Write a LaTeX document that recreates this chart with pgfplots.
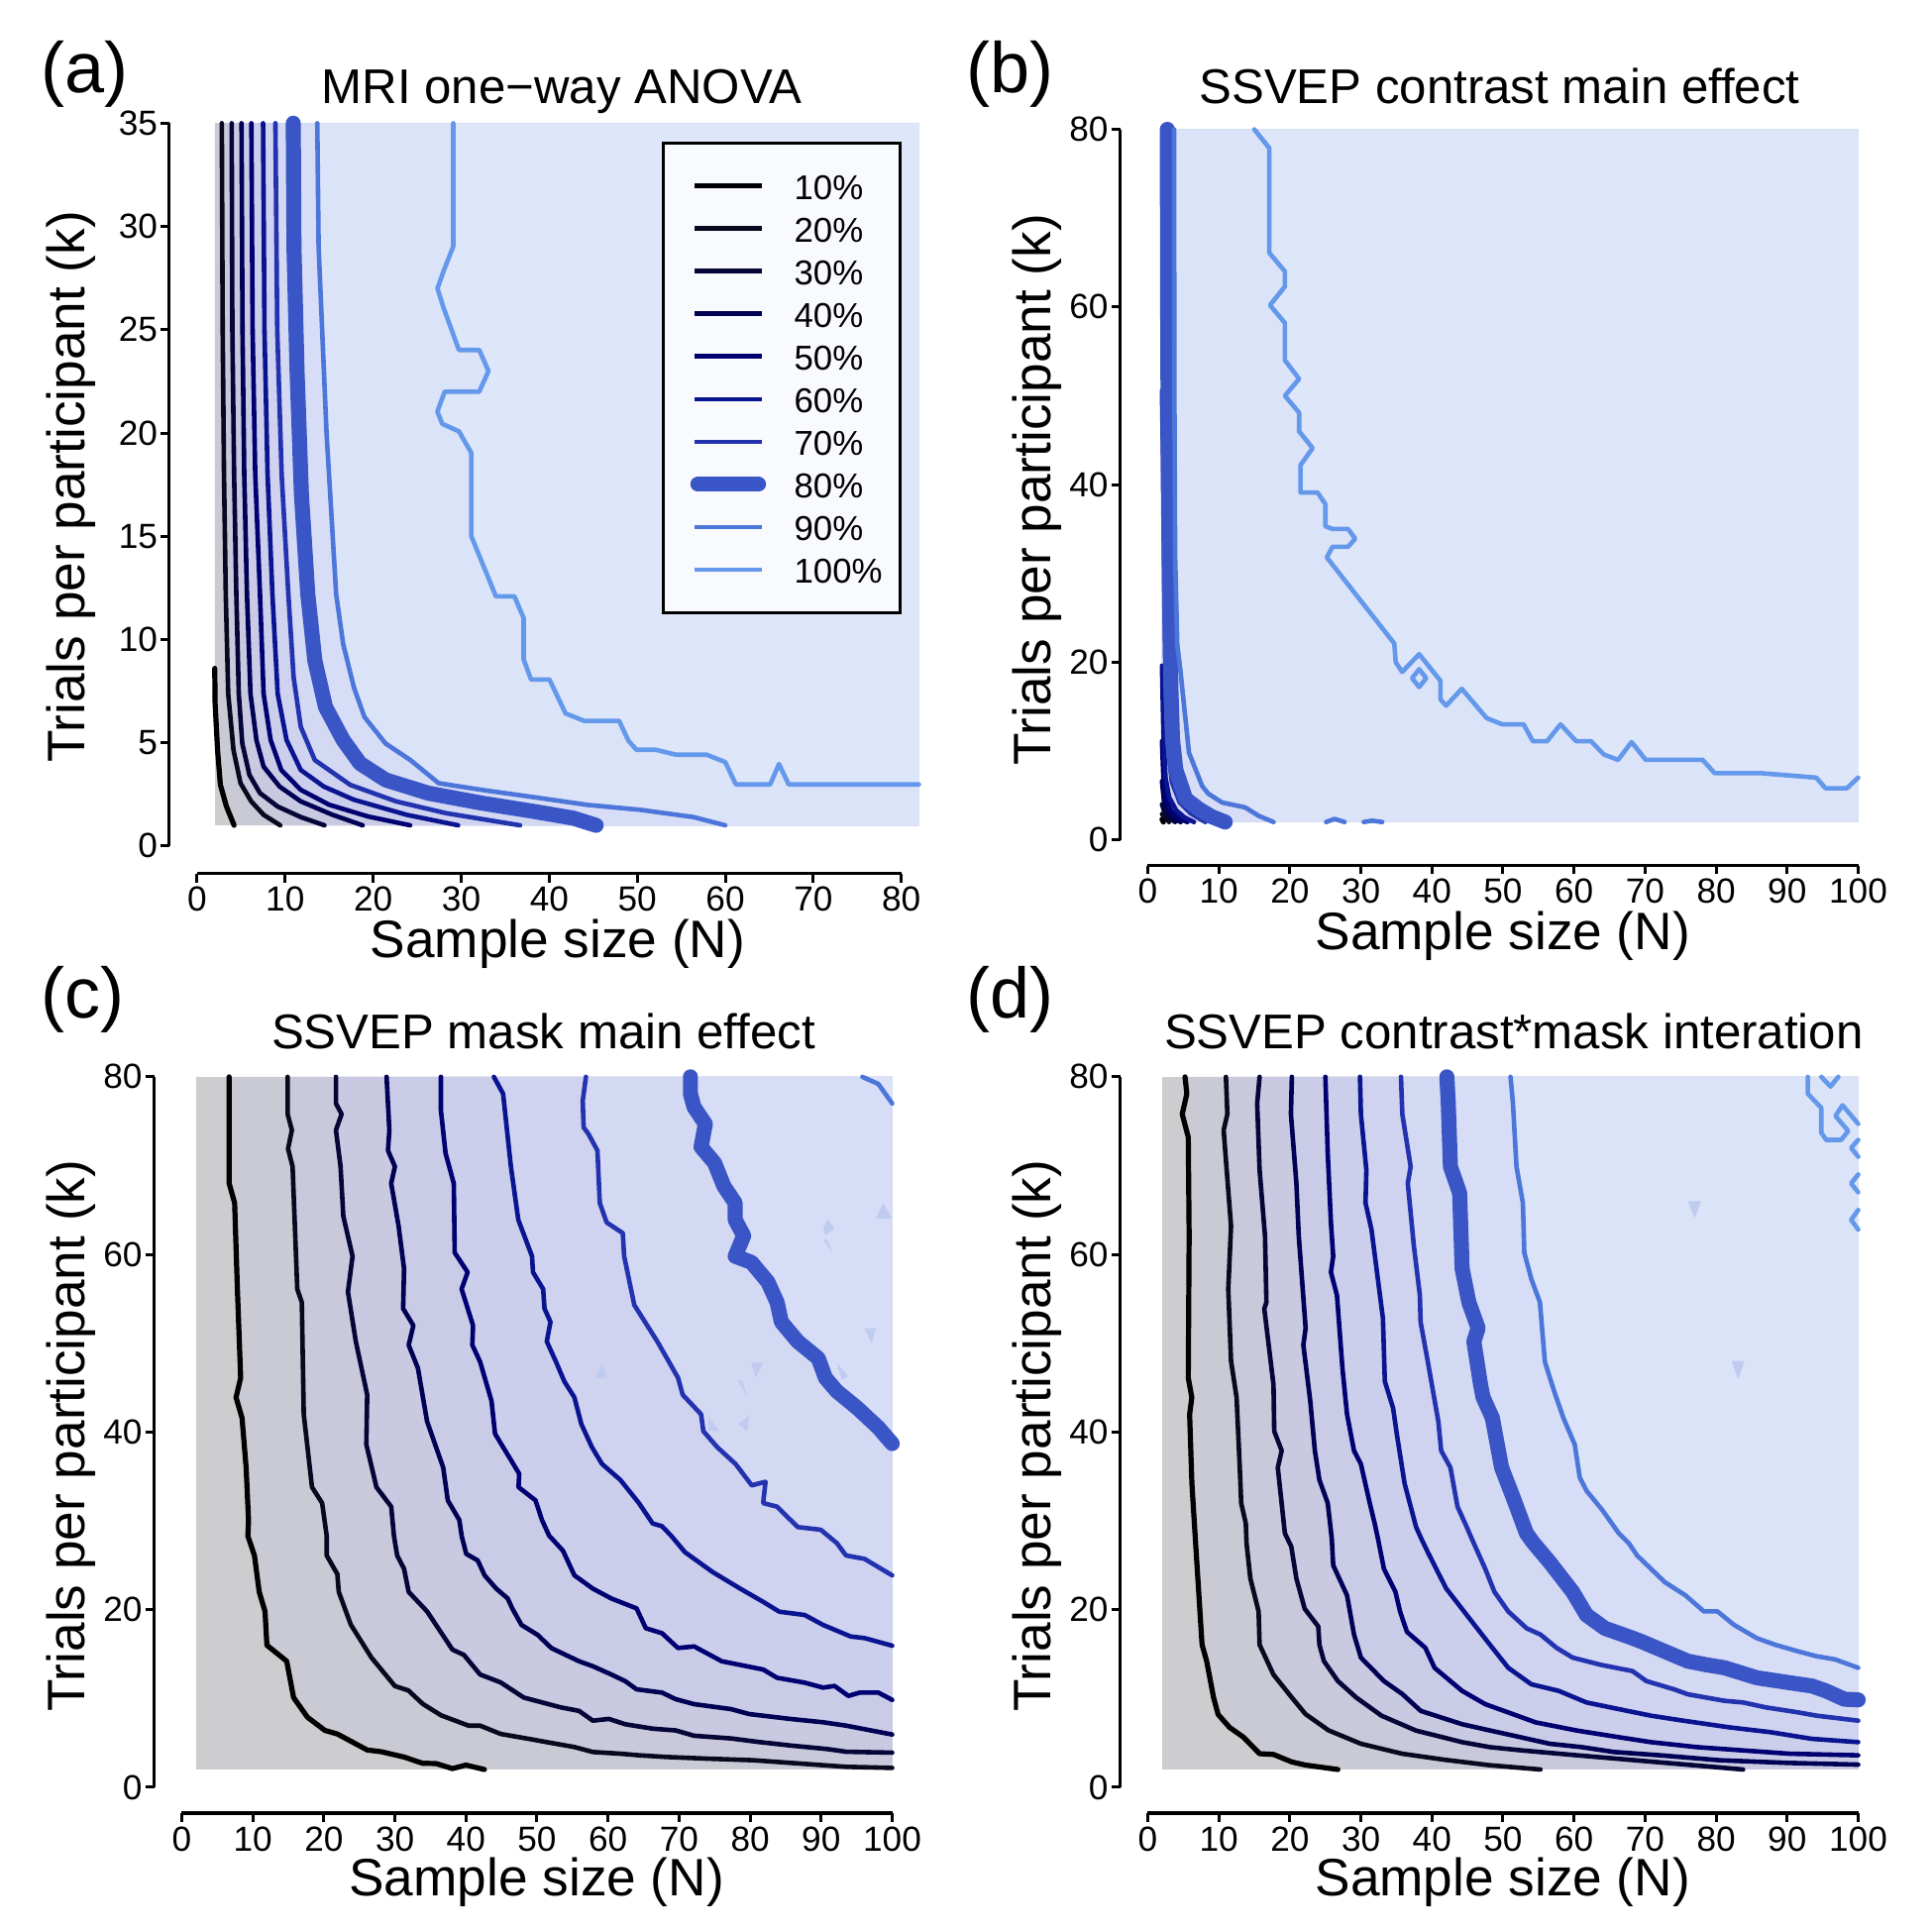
\documentclass[border=0pt]{standalone}
\usepackage{fontspec}
\setmainfont{Liberation Sans}
\usepackage{pgfplots}
\usepackage{pgfplotstable}
\pgfplotsset{compat=1.18}

\definecolor{L10}{RGB}{0,0,0}
\definecolor{L20}{RGB}{8,8,30}
\definecolor{L30}{RGB}{5,5,55}
\definecolor{L40}{RGB}{0,0,85}
\definecolor{L50}{RGB}{0,0,115}
\definecolor{L60}{RGB}{10,20,145}
\definecolor{L70}{RGB}{35,50,175}
\definecolor{L80}{RGB}{58,86,198}
\definecolor{L90}{RGB}{76,118,218}
\definecolor{L100}{RGB}{100,152,235}
\definecolor{F0}{RGB}{205,205,208}
\definecolor{F10}{RGB}{202,202,213}
\definecolor{F20}{RGB}{201,201,219}
\definecolor{F30}{RGB}{201,202,225}
\definecolor{F40}{RGB}{202,204,231}
\definecolor{F50}{RGB}{204,207,236}
\definecolor{F60}{RGB}{207,211,240}
\definecolor{F70}{RGB}{211,216,243}
\definecolor{F80}{RGB}{215,221,246}
\definecolor{F90}{RGB}{219,227,248}
\definecolor{F100}{RGB}{222,230,249}
\definecolor{TRI}{RGB}{192,203,240}
\definecolor{LegBG}{RGB}{248,250,254}

\tikzset{
  lc/.style={line cap=round, line join=round, line width=1.15pt},
  lthick/.style={line cap=round, line join=round, line width=3.8pt, L80},
}

\pgfplotsset{
  panel/.style={
    scale only axis, clip=false,
    axis line style={draw=none},
    tick pos=left, tick align=outside,
    major tick length=2.2pt,
    tick style={black, line width=0.75pt},
    /pgf/number format/assume math mode=true,
    ticklabel style={font=\fontsize{8.8}{10}\selectfont},
    xticklabel style={inner sep=1pt},
    yticklabel style={inner sep=0.6pt},
    every axis title/.style={font=\fontsize{12.3}{14}\selectfont, anchor=base, inner sep=0pt},
    xlabel style={font=\fontsize{13.3}{15}\selectfont, anchor=base, inner sep=0pt},
    ylabel style={font=\fontsize{13.3}{15}\selectfont, anchor=base, inner sep=0pt},
    xlabel={Sample size (N)},
    ylabel={Trials per participant (k)},
  },
  wide/.style={panel, width=186.25pt, height=185.775pt,
    xmin=-3.9, xmax=100, ymin=-2.91, ymax=80,
    xtick={0,10,...,100}, ytick={0,20,...,80}},
}

% ---------------- panel (a) ----------------
\pgfplotstableread{
x y
2 8.6
2.04 6.9
2.32 4.64
2.64 2.96
3.33 1.91
4.2 1.0
}\Ai
\pgfplotstableread{
x y
2.8 35
2.9 25
3.05 18
3.25 12.2
3.53 7.37
4.13 4.64
4.93 3.04
6.14 2.16
7.55 1.51
9.44 1.0
}\Aii
\pgfplotstableread{
x y
3.92 35
4.0 25
4.2 18
4.45 12.2
4.73 7.37
5.13 4.96
5.94 3.44
7.14 2.56
9.15 1.91
11.77 1.4
14.46 1.0
}\Aiii
\pgfplotstableread{
x y
5.04 35
5.15 25
5.35 18
5.66 12.2
6.06 7.37
6.74 5.12
7.55 3.84
9.36 2.88
11.77 2.16
15.38 1.51
18.8 1.0
}\Aiv
\pgfplotstableread{
x y
6.16 35
6.3 25
6.6 18
7.14 12.2
7.55 7.37
8.35 5.13
9.56 3.68
11.77 2.72
14.98 2.0
19.4 1.43
24.2 1.0
}\Av
\pgfplotstableread{
x y
7.49 35
7.65 25
8.0 18
8.55 12.2
9.15 7.37
10.16 5.13
11.77 3.68
14.38 2.88
17.8 2.24
23.8 1.51
29.65 1.0
}\Avi
\pgfplotstableread{
x y
8.89 35
9.1 25
9.6 18
10.36 12.2
10.96 8.17
11.77 5.77
13.37 4.16
17.39 2.96
22.6 2.16
28.25 1.59
36.69 1.0
}\Avii
\pgfplotstableread{
x y
10.92 35
11.0 29
11.35 23
11.85 17
12.57 12.2
13.37 8.98
14.58 6.73
16.59 5.13
18.5 4.0
21.41 3.2
26.24 2.56
32.27 2.08
38.29 1.67
42.71 1.35
45.33 1.0
}\Aviii
\pgfplotstableread{
x y
13.65 35
13.8 29
14.0 27
14.7 20
15.4 15
15.79 12.2
16.59 9.78
17.8 7.69
19.0 6.25
21.41 4.96
24.23 4.16
27.44 3.04
32.27 2.72
38.29 2.36
44.32 1.99
50.35 1.75
56.38 1.4
60.0 1.0
}\Aix
\pgfplotstableread{
x y
29.1 35
29.1 29.04
28.0 27.84
27.3 27.0
28.0 26.05
29.74 24.02
32.05 24.02
33.1 23.0
32.05 22.0
28.13 22.0
27.29 21.04
27.85 20.44
29.74 20.08
31.14 19.04
31.14 15.01
33.94 12.09
36.04 12.09
37.09 11.04
37.09 9.04
37.93 8.06
40.03 8.06
41.85 6.42
43.95 6.06
47.94 6.06
48.99 5.10
49.9 4.66
52.1 4.66
54.4 4.42
57.9 4.42
60.0 4.06
61.2 2.98
65.1 2.98
66.1 3.97
67.2 2.98
82 2.98
}\Ax

% ---------------- panel (b) ----------------
\pgfplotstableread{
x y
2 2.3
2.2 2.0
}\Bi
\pgfplotstableread{
x y
2 2.9
2.5 2.4
3.0 2.0
}\Bii
\pgfplotstableread{
x y
2 4.0
2.4 3.0
3.1 2.4
3.85 2.0
}\Biii
\pgfplotstableread{
x y
2 6.6
2.3 4.2
2.9 3.0
3.8 2.3
4.64 2.0
}\Biv
\pgfplotstableread{
x y
2 11.1
2.2 7
2.6 4.5
3.3 3.2
4.4 2.4
5.57 2.0
}\Bv
\pgfplotstableread{
x y
2 19.6
2.2 12
2.5 7
3.0 4.8
4.0 3.3
5.2 2.5
6.5 2.0
}\Bvi
\pgfplotstableread{
x y
2 50.6
2.2 40
2.4 25
2.6 15
2.9 10
3.4 6.5
4.5 4.2
6 3
8.1 2
}\Bvii
\pgfplotstableread{
x y
2.75 80
2.8 60
2.9 40
3.05 28
3.25 17.2
3.48 11.3
3.94 7.9
5.33 4.6
7.2 3.45
9.0 2.6
10.9 2.0
}\Bviii
\pgfplotstableread{
x y
3.7 80
3.75 50
3.85 32
4.15 22
4.6 19
5.8 9.8
7.66 6.05
8.5 5.2
10.45 4.2
13.7 3.65
15.6 2.7
17.7 2.0
}\Bix
\pgfplotstableread{
x y
15 80
17.1 77.9
17.1 66.1
19.3 64.0
19.3 62.3
17.2 60.2
19.3 58.2
19.3 54.0
21.3 51.9
19.3 50.0
21.3 48.1
21.3 46.0
23.2 44.1
21.5 42.2
21.5 39.1
23.9 39.1
25 37.8
25 35.3
26 35.0
28.2 35.0
29.2 33.9
28.2 33.0
26 33.0
25.2 31.8
34.7 22.1
34.9 20.0
35.8 18.9
38.2 20.9
41.2 17.9
41.2 15.8
42 15.1
44.2 17.0
47.7 13.7
49.9 13.0
52.9 13.0
54.2 11.1
56.2 11.1
58.1 13.0
60.3 11.1
62.4 11.1
64.2 9.6
66.2 9.0
68.1 11.0
70.1 9.0
78.1 9.0
79.8 7.5
86.3 7.5
94.1 7.0
95.4 5.8
98.4 5.8
100 7.0
}\Bx

% ---------------- panel (c) ----------------
\pgfplotstableread{
x y
6.67 80
6.67 68.0
7.44 65.8
7.83 56.1
8.29 46.1
7.64 43.9
8.48 41.6
9.06 36.0
9.4 30.0
9.3 28.3
10.23 26.1
10.9 22.0
11.72 19.8
11.98 16.0
14.77 14.2
15.74 10.1
17.68 7.9
20.15 6.4
21.9 6.0
26.1 4.2
28.1 4.0
31.3 3.4
33.9 2.7
35.8 2.67
38.1 2.1
40.0 2.5
42.6 2.0
}\Ci
\pgfplotstableread{
x y
14.9 80
14.9 75.8
15.5 74.0
14.96 71.9
15.6 69.9
16.26 56.1
16.9 54.6
17.17 42.0
18.33 33.8
19.76 32.0
20.4 28.3
20.4 26.1
21.9 24.0
22.1 22.0
23.8 18.3
26.7 14.6
30.0 11.4
31.9 10.9
33.9 9.4
36.5 8.1
40.37 6.94
41.99 6.94
44.9 6.0
48.79 5.46
51.38 5.08
55.27 4.53
57.87 3.97
61.75 3.78
64.35 3.6
68.23 3.41
74.07 3.22
80.55 3.04
87.03 2.67
93.51 2.3
100 2.18
}\Cii
\pgfplotstableread{
x y
21.7 80
21.7 77.0
22.5 75.8
21.7 74.0
22.35 69.9
22.74 64.3
24.04 59.8
23.39 55.8
24.5 50.2
26.1 44.2
25.98 38.6
27.4 33.8
29.48 31.6
29.87 28.3
30.32 26.1
31.29 24.6
31.94 22.0
34.53 19.8
38.1 15.5
39.72 14.9
41.99 12.7
44.9 11.8
48.14 10.1
53.33 9.0
55.92 8.6
57.86 7.5
60.13 7.7
62.4 7.1
66.29 6.6
69.53 6.4
72.12 5.8
77.31 5.5
81.2 5.1
85.73 4.7
90.92 4.3
93.5 4.0
100 3.9
}\Ciii
\pgfplotstableread{
x y
28.83 80
29.22 74.0
29.03 71.7
30.0 69.9
29.48 68.0
30.52 63.2
31.29 58.4
31.16 53.9
32.6 52.0
31.94 49.8
33.24 47.2
34.53 41.2
36.8 36.0
37.45 32.3
39.07 30.1
39.4 28.3
40.04 26.28
41.66 25.54
42.63 23.86
44.26 22.37
45.88 21.26
46.52 20.14
47.82 18.28
50.09 17.16
52.03 15.67
55.92 14.19
57.86 13.63
60.46 12.7
62.4 11.96
64.02 11.03
67.59 10.66
69.53 9.92
72.12 9.36
77.31 8.8
79.9 8.24
85.73 7.69
90.27 7.32
93.51 6.94
100 5.94
}\Civ
\pgfplotstableread{
x y
36.48 80
36.48 76.2
37.13 71.4
38.29 68.0
38.42 60.2
40.24 58.0
39.39 56.1
41.0 52.0
40.9 49.8
42.0 47.9
43.6 43.5
44.1 39.8
47.5 35.3
47.4 33.8
49.8 32.3
50.7 30.1
51.71 28.33
53.65 26.65
55.27 23.86
57.86 22.37
60.46 21.26
64.02 20.14
65.32 17.91
67.59 17.35
69.85 15.68
72.12 15.86
76.01 14.19
81.84 13.26
83.79 12.33
87.68 11.78
90.27 11.22
91.89 11.41
93.83 10.29
95.46 10.66
98.05 10.66
100 9.84
}\Cv
\pgfplotstableread{
x y
43.93 80
45.23 78.1
46.33 69.9
47.37 63.9
49.3 59.8
49.44 58.0
50.87 56.1
51.06 53.9
51.9 52.4
51.38 50.2
52.68 47.9
53.85 45.7
55.27 43.9
56.24 40.9
57.73 38.3
59.16 36.4
61.75 34.6
64.35 32.0
66.29 29.7
67.59 29.4
68.88 28.33
70.83 26.47
74.72 24.24
78.6 22.37
81.84 20.88
84.11 19.77
87.68 19.4
90.27 18.28
94.16 16.98
96.1 16.8
100 15.94
}\Cvi
\pgfplotstableread{
x y
56.89 80
56.44 77.3
56.57 74.3
57.22 73.6
58.51 71.7
58.84 65.8
59.81 63.6
62.08 62.4
62.27 59.8
63.7 54.3
66.94 50.2
69.86 46.1
70.51 44.2
73.1 42.0
73.42 40.1
75.37 38.3
77.96 36.4
80.23 34.0
82.17 34.4
81.84 32.0
83.79 31.6
86.7 29.3
89.94 29.0
92.2 27.5
93.51 26.1
96.1 25.72
100 23.86
}\Cvii
\pgfplotstableread{
x y
71.6 80
71.6 78.1
72.1 76.6
73.7 74.7
73.1 72.1
75.0 70.3
76.3 67.7
77.9 65.8
77.9 63.9
79.1 62.1
77.9 59.8
80.2 59.1
82.5 56.9
83.8 54.6
84.4 52.4
86.7 50.2
89.6 48.3
90.6 46.1
92.2 44.6
95.1 42.7
98.05 40.5
100 38.7
}\Cviii
\pgfplotstableread{
x y
95.8 80
98.05 79.2
100 77.0
}\Cix

% ---------------- panel (d) ----------------
\pgfplotstableread{
x y
5.24 80
5.5 78.1
4.85 75.8
5.7 73.2
5.82 62.1
5.7 46.1
6.2 43.9
5.89 42.0
6.21 34.2
6.67 28.3
7.64 16.05
8.29 14.2
9.26 10.1
9.9 8.2
11.5 6.75
13.47 5.64
15.74 3.78
17.68 3.7
20.28 2.85
22.2 2.5
26.76 2.0
}\Di
\pgfplotstableread{
x y
11.0 80
11.2 75.8
10.68 74.0
11.07 69.9
11.72 63.2
11.33 56.1
11.72 48.0
12.5 43.9
12.95 36.0
13.15 32.0
13.8 29.7
13.9 27.5
14.44 23.5
15.6 19.8
15.74 16.05
17.68 12.7
20.28 10.1
22.2 8.24
25.46 6.4
30.0 4.9
35.8 3.78
41.66 3.11
48.14 2.48
55.27 2.0
}\Dii
\pgfplotstableread{
x y
15.74 80
15.4 77.0
15.74 69.5
16.5 62.1
16.7 54.6
16.4 53.9
17.7 45.3
17.8 40.1
18.85 37.9
18.3 36.0
19.3 28.6
20.2 27.1
20.92 23.5
22.09 20.1
24.0 18.1
24.16 16.05
24.8 14.2
26.76 11.96
29.35 10.1
32.9 8.06
37.77 6.38
44.25 5.08
48.14 4.52
52.68 4.15
60.46 3.6
67.59 3.11
74.07 2.67
83.79 2.0
}\Diii
\pgfplotstableread{
x y
20.28 80
20.15 75.8
20.92 68.0
21.25 62.1
22.22 51.7
21.9 49.8
22.87 43.5
23.52 37.9
24.16 34.6
25.33 32.0
25.9 28.0
26.1 25.0
28.05 21.6
29.03 17.2
30.0 14.6
33.24 11.96
35.83 10.5
38.42 8.6
44.25 7.1
48.14 6.4
51.38 5.83
56.57 4.9
61.1 4.52
65.64 3.97
72.12 3.6
80.55 3.04
90.27 2.74
100 2.55
}\Div
\pgfplotstableread{
x y
25.0 80
25.33 71.4
25.78 63.6
26.1 59.8
25.78 58.0
26.63 55.4
27.4 47.2
28.05 42.0
29.03 37.9
30.0 36.4
31.16 32.3
31.94 29.7
32.4 28.0
33.24 24.6
34.86 22.0
35.51 19.8
36.48 17.5
39.07 15.7
40.37 13.45
44.25 10.85
47.5 9.36
51.38 8.24
54.62 7.3
60.46 6.38
66.29 5.64
70.83 5.08
77.31 4.52
83.79 4.15
90.27 3.78
100 3.6
}\Dv
\pgfplotstableread{
x y
29.87 80
30.0 75.8
30.77 69.5
30.65 65.8
31.49 62.8
33.1 52.8
33.37 45.7
34.53 42.7
35.05 39.8
36.15 34.2
37.77 29.3
38.5 28.0
39.4 26.5
41.99 22.4
44.9 19.4
47.82 16.4
50.74 13.45
53.98 11.6
57.86 10.85
61.75 9.55
66.29 8.8
70.83 8.06
75.37 7.5
81.84 6.75
87.68 6.2
93.51 5.45
100 5.08
}\Dvi
\pgfplotstableread{
x y
35.64 80
35.83 75.8
37.0 69.9
36.6 68.0
37.45 61.0
38.3 55.4
38.4 52.4
39.4 48.0
40.9 41.2
41.3 37.9
42.6 36.0
43.6 31.6
44.9 29.3
45.6 28.0
47.5 24.6
48.8 22.0
50.74 19.8
53.33 17.9
55.27 17.2
57.54 15.7
59.81 14.6
63.7 13.8
68.23 13.08
70.18 11.96
74.07 11.03
76.01 10.47
81.2 9.73
83.79 9.55
87.03 8.99
91.57 8.43
94.16 8.06
100 7.5
}\Dvii
\pgfplotstableread{
x y
42.1 80
42.3 77.0
42.6 69.9
43.9 66.9
44.25 58.4
45.2 54.6
46.5 51.7
45.9 50.2
46.85 45.3
47.2 43.9
48.5 41.6
49.8 36.0
51.4 32.7
53.3 28.6
54.3 27.5
56.57 25.35
59.81 22.0
61.75 19.4
64.35 17.9
68.23 16.8
69.53 16.4
72.77 15.3
76.01 14.2
78.6 13.8
81.2 13.45
85.73 12.33
90.27 11.78
93.51 11.4
95.46 10.85
98.05 9.92
100 9.84
}\Dviii
\pgfplotstableread{
x y
51.06 80
51.4 77.0
51.9 69.9
52.8 65.8
53.0 60.2
54.0 57.2
55.2 54.6
55.9 47.9
57.2 44.6
58.5 41.6
60.1 38.6
60.8 34.9
61.75 33.4
64.0 31.2
66.3 28.6
67.7 27.5
68.88 26.1
72.77 23.1
75.7 21.6
78.28 19.8
80.2 19.8
82.5 18.3
85.7 16.8
88.3 16.05
91.57 15.3
94.16 14.75
96.75 14.4
100 13.45
}\Dix

\begin{document}
\begin{tikzpicture}
\useasboundingbox (0,0) rectangle (487.5pt,487.5pt);

% =================== (a) ===================
\begin{axis}[panel, at={(42.75pt,267.05pt)}, anchor=south west,
  width=189.125pt, height=189.35pt,
  xmin=-3.15, xmax=82, ymin=-1.34, ymax=35,
  xtick={0,10,...,80}, ytick={0,5,...,35},
  title={MRI one−way ANOVA},
  title style={at={(axis description cs:0.5235,1.0263)}},
  xlabel style={at={(axis description cs:0.518,-0.1125)}},
  ylabel style={at={(axis description cs:-0.1126,0.5156)}}]
\addplot[draw=none, fill=F0] coordinates {(2,1) (82,1) (82,35) (2,35)} -- cycle;
\addplot[draw=none, fill=F10] table {\Ai} -- (axis cs:82,1) -- (axis cs:82,35) -- (axis cs:2,35) -- cycle;
\addplot[draw=none, fill=F20] table {\Aii} -- (axis cs:82,1) -- (axis cs:82,35) -- cycle;
\addplot[draw=none, fill=F30] table {\Aiii} -- (axis cs:82,1) -- (axis cs:82,35) -- cycle;
\addplot[draw=none, fill=F40] table {\Aiv} -- (axis cs:82,1) -- (axis cs:82,35) -- cycle;
\addplot[draw=none, fill=F50] table {\Av} -- (axis cs:82,1) -- (axis cs:82,35) -- cycle;
\addplot[draw=none, fill=F60] table {\Avi} -- (axis cs:82,1) -- (axis cs:82,35) -- cycle;
\addplot[draw=none, fill=F70] table {\Avii} -- (axis cs:82,1) -- (axis cs:82,35) -- cycle;
\addplot[draw=none, fill=F80] table {\Aviii} -- (axis cs:82,1) -- (axis cs:82,35) -- cycle;
\addplot[draw=none, fill=F90] table {\Aix} -- (axis cs:82,1) -- (axis cs:82,35) -- cycle;
\addplot[draw=none, fill=F100] table {\Ax} -- (axis cs:82,35) -- cycle;
\addplot[lc, L10, line width=1.3pt] table {\Ai};
\addplot[lc, L20] table {\Aii};
\addplot[lc, L30] table {\Aiii};
\addplot[lc, L40] table {\Aiv};
\addplot[lc, L50] table {\Av};
\addplot[lc, L60] table {\Avi};
\addplot[lc, L70] table {\Avii};
\addplot[lthick] table {\Aviii};
\addplot[lc, L90] table {\Aix};
\addplot[lc, L100] table {\Ax};
\draw[line width=0.75pt] (axis cs:0,-1.34) -- (axis cs:80,-1.34);
\draw[line width=0.75pt] (axis cs:-3.15,0) -- (axis cs:-3.15,35);
\node[anchor=base west, inner sep=0pt, font=\fontsize{18}{20}\selectfont] at (axis description cs:-0.1726,1.0411) {(a)};
\end{axis}

% =================== (b) ===================
\begin{axis}[wide, at={(282.625pt,269.075pt)}, anchor=south west,
  title={SSVEP contrast main effect},
  title style={at={(axis description cs:0.5141,1.0351)}},
  xlabel style={at={(axis description cs:0.5184,-0.1145)}},
  ylabel style={at={(axis description cs:-0.0936,0.5104)}}]
\addplot[draw=none, fill=F0] coordinates {(2,2) (100,2) (100,80) (2,80)} -- cycle;
\addplot[draw=none, fill=F10] table {\Bi} -- (axis cs:100,2) -- (axis cs:100,80) -- (axis cs:2,80) -- cycle;
\addplot[draw=none, fill=F20] table {\Bii} -- (axis cs:100,2) -- (axis cs:100,80) -- (axis cs:2,80) -- cycle;
\addplot[draw=none, fill=F30] table {\Biii} -- (axis cs:100,2) -- (axis cs:100,80) -- (axis cs:2,80) -- cycle;
\addplot[draw=none, fill=F40] table {\Biv} -- (axis cs:100,2) -- (axis cs:100,80) -- (axis cs:2,80) -- cycle;
\addplot[draw=none, fill=F50] table {\Bv} -- (axis cs:100,2) -- (axis cs:100,80) -- (axis cs:2,80) -- cycle;
\addplot[draw=none, fill=F60] table {\Bvi} -- (axis cs:100,2) -- (axis cs:100,80) -- (axis cs:2,80) -- cycle;
\addplot[draw=none, fill=F70] table {\Bvii} -- (axis cs:100,2) -- (axis cs:100,80) -- (axis cs:2,80) -- cycle;
\addplot[draw=none, fill=F80] table {\Bviii} -- (axis cs:100,2) -- (axis cs:100,80) -- cycle;
\addplot[draw=none, fill=F90] table {\Bix} -- (axis cs:100,2) -- (axis cs:100,80) -- cycle;
\addplot[draw=none, fill=F100] table {\Bx} -- (axis cs:100,80) -- cycle;
\addplot[lc, L10, line width=1.3pt] table {\Bi};
\addplot[lc, L20] table {\Bii};
\addplot[lc, L30] table {\Biii};
\addplot[lc, L40] table {\Biv};
\addplot[lc, L50] table {\Bv};
\addplot[lc, L60] table {\Bvi};
\addplot[lc, L70] table {\Bvii};
\addplot[lthick] table {\Bviii};
\addplot[lc, L90] table {\Bix};
\addplot[lc, L90] coordinates {(25.1,2) (26.3,2.35) (27.7,2)};
\addplot[lc, L90] coordinates {(30.4,2) (31.6,2.15) (33.0,2)};
\addplot[lc, L100] table {\Bx};
\addplot[lc, L100] coordinates {(38.2,19.2) (39.2,18.2) (38.2,17.2) (37.2,18.2) (38.2,19.2)};
\draw[line width=0.75pt] (axis cs:0,-2.91) -- (axis cs:100,-2.91);
\draw[line width=0.75pt] (axis cs:-3.9,0) -- (axis cs:-3.9,80);
\node[anchor=base west, inner sep=0pt, font=\fontsize{18}{20}\selectfont] at (axis description cs:-0.2089,1.0502) {(b)};
\end{axis}

% =================== (c) ===================
\begin{axis}[wide, at={(38.875pt,30pt)}, anchor=south west,
  title={SSVEP mask main effect},
  title style={at={(axis description cs:0.5275,1.0375)}},
  xlabel style={at={(axis description cs:0.5184,-0.113)}},
  ylabel style={at={(axis description cs:-0.0936,0.5125)}}]
\addplot[draw=none, fill=F0] coordinates {(2,2) (100,2) (100,80) (2,80)} -- cycle;
\addplot[draw=none, fill=F10] table {\Ci} -- (axis cs:100,2) -- (axis cs:100,80) -- cycle;
\addplot[draw=none, fill=F20] table {\Cii} -- (axis cs:100,80) -- cycle;
\addplot[draw=none, fill=F30] table {\Ciii} -- (axis cs:100,80) -- cycle;
\addplot[draw=none, fill=F40] table {\Civ} -- (axis cs:100,80) -- cycle;
\addplot[draw=none, fill=F50] table {\Cv} -- (axis cs:100,80) -- cycle;
\addplot[draw=none, fill=F60] table {\Cvi} -- (axis cs:100,80) -- cycle;
\addplot[draw=none, fill=F70] table {\Cvii} -- (axis cs:100,80) -- cycle;
\addplot[draw=none, fill=F80] table {\Cviii} -- (axis cs:100,80) -- cycle;
\addplot[draw=none, fill=F90] table {\Cix} -- (axis cs:100,80) -- cycle;
\addplot[draw=none, fill=TRI] coordinates {(58.2,46.1) (59.8,46.1) (59.2,47.8)} -- cycle;
\addplot[draw=none, fill=TRI] coordinates {(80.2,47.8) (81.8,47.8) (80.8,46.1)} -- cycle;
\addplot[draw=none, fill=TRI] coordinates {(78.3,45.8) (78.9,45.8) (79.6,44.0)} -- cycle;
\addplot[draw=none, fill=TRI] coordinates {(74.1,41.8) (74.1,40.1) (75.7,40.1)} -- cycle;
\addplot[draw=none, fill=TRI] coordinates {(79.9,41.8) (78.3,40.9) (79.6,40.1)} -- cycle;
\addplot[draw=none, fill=TRI] coordinates {(90.9,64.0) (91.9,62.9) (90.6,62.2) (90.3,63.0)} -- cycle;
\addplot[draw=none, fill=TRI] coordinates {(90.3,61.7) (90.8,61.7) (91.6,60.2)} -- cycle;
\addplot[draw=none, fill=TRI] coordinates {(98.7,65.8) (97.7,64.0) (100,64.0)} -- cycle;
\addplot[draw=none, fill=TRI] coordinates {(96.1,51.7) (97.7,51.7) (97.1,50.0)} -- cycle;
\addplot[draw=none, fill=TRI] coordinates {(92.2,47.8) (93.8,46.3) (92.9,45.9)} -- cycle;
\addplot[lc, L10, line width=1.3pt] table {\Ci};
\addplot[lc, L20] table {\Cii};
\addplot[lc, L30] table {\Ciii};
\addplot[lc, L40] table {\Civ};
\addplot[lc, L50] table {\Cv};
\addplot[lc, L60] table {\Cvi};
\addplot[lc, L70] table {\Cvii};
\addplot[lthick] table {\Cviii};
\addplot[lc, L90] table {\Cix};
\draw[line width=0.75pt] (axis cs:0,-2.91) -- (axis cs:100,-2.91);
\draw[line width=0.75pt] (axis cs:-3.9,0) -- (axis cs:-3.9,80);
\node[anchor=base west, inner sep=0pt, font=\fontsize{18}{20}\selectfont] at (axis description cs:-0.1545,1.0793) {(c)};
\end{axis}

% =================== (d) ===================
\begin{axis}[wide, at={(282.625pt,30pt)}, anchor=south west,
  title={SSVEP contrast*mask interation},
  title style={at={(axis description cs:0.5334,1.0375)}},
  xlabel style={at={(axis description cs:0.5184,-0.113)}},
  ylabel style={at={(axis description cs:-0.0936,0.5125)}}]
\addplot[draw=none, fill=F0] coordinates {(2,2) (100,2) (100,80) (2,80)} -- cycle;
\addplot[draw=none, fill=F10] table {\Di} -- (axis cs:100,2) -- (axis cs:100,80) -- cycle;
\addplot[draw=none, fill=F20] table {\Dii} -- (axis cs:100,2) -- (axis cs:100,80) -- cycle;
\addplot[draw=none, fill=F30] table {\Diii} -- (axis cs:100,2) -- (axis cs:100,80) -- cycle;
\addplot[draw=none, fill=F40] table {\Div} -- (axis cs:100,80) -- cycle;
\addplot[draw=none, fill=F50] table {\Dv} -- (axis cs:100,80) -- cycle;
\addplot[draw=none, fill=F60] table {\Dvi} -- (axis cs:100,80) -- cycle;
\addplot[draw=none, fill=F70] table {\Dvii} -- (axis cs:100,80) -- cycle;
\addplot[draw=none, fill=F80] table {\Dviii} -- (axis cs:100,80) -- cycle;
\addplot[draw=none, fill=F90] table {\Dix} -- (axis cs:100,80) -- cycle;
\addplot[draw=none, fill=TRI] coordinates {(76.0,66.0) (77.9,66.0) (77.0,64.1)} -- cycle;
\addplot[draw=none, fill=TRI] coordinates {(82.2,48.0) (84.0,48.0) (83.1,45.9)} -- cycle;
\addplot[lc, L10, line width=1.3pt] table {\Di};
\addplot[lc, L20] table {\Dii};
\addplot[lc, L30] table {\Diii};
\addplot[lc, L40] table {\Div};
\addplot[lc, L50] table {\Dv};
\addplot[lc, L60] table {\Dvi};
\addplot[lc, L70] table {\Dvii};
\addplot[lthick] table {\Dviii};
\addplot[lc, L90] table {\Dix};
\addplot[lc, L100] coordinates {(92.9,80) (92.9,78.1) (94.8,76.5) (94.8,73.7) (95.5,72.9) (97.6,72.9) (98.6,73.9) (96.8,75.6) (97.8,76.8) (100,74.7)};
\addplot[lc, L100] coordinates {(94.8,80) (96.1,78.9) (97.2,80)};
\addplot[lc, L100] coordinates {(100,72.9) (99.0,72.0) (100,71.0)};
\addplot[lc, L100] coordinates {(100,69.0) (99.0,68.0) (100,67.0)};
\addplot[lc, L100] coordinates {(100,65.0) (99.0,63.9) (100,62.8)};
\draw[line width=0.75pt] (axis cs:0,-2.91) -- (axis cs:100,-2.91);
\draw[line width=0.75pt] (axis cs:-3.9,0) -- (axis cs:-3.9,80);
\node[anchor=base west, inner sep=0pt, font=\fontsize{18}{20}\selectfont] at (axis description cs:-0.2089,1.0793) {(d)};
\end{axis}

% =================== legend of (a) ===================
\draw[line width=0.75pt, fill=LegBG] (167.45pt,332.8pt) rectangle (227pt,451.4pt);
\begin{scope}[font=\fontsize{8.7}{10}\selectfont]
\draw[L10, line width=1.3pt] (175.2pt,440.575pt) -- (192.3pt,440.575pt);
\node[anchor=base west, inner sep=0pt] at (200.2pt,437.1pt) {10\%};
\draw[L20, line width=1.15pt] (175.2pt,429.82pt) -- (192.3pt,429.82pt);
\node[anchor=base west, inner sep=0pt] at (200.2pt,426.34pt) {20\%};
\draw[L30, line width=1.15pt] (175.2pt,419.06pt) -- (192.3pt,419.06pt);
\node[anchor=base west, inner sep=0pt] at (200.2pt,415.58pt) {30\%};
\draw[L40, line width=1.15pt] (175.2pt,408.30pt) -- (192.3pt,408.30pt);
\node[anchor=base west, inner sep=0pt] at (200.2pt,404.83pt) {40\%};
\draw[L50, line width=1.15pt] (175.2pt,397.55pt) -- (192.3pt,397.55pt);
\node[anchor=base west, inner sep=0pt] at (200.2pt,394.07pt) {50\%};
\draw[L60, line width=1.15pt] (175.2pt,386.79pt) -- (192.3pt,386.79pt);
\node[anchor=base west, inner sep=0pt] at (200.2pt,383.31pt) {60\%};
\draw[L70, line width=1.15pt] (175.2pt,376.03pt) -- (192.3pt,376.03pt);
\node[anchor=base west, inner sep=0pt] at (200.2pt,372.56pt) {70\%};
\draw[L80, line width=3.8pt, line cap=round] (176.1pt,365.28pt) -- (191.4pt,365.28pt);
\node[anchor=base west, inner sep=0pt] at (200.2pt,361.80pt) {80\%};
\draw[L90, line width=1.15pt] (175.2pt,354.52pt) -- (192.3pt,354.52pt);
\node[anchor=base west, inner sep=0pt] at (200.2pt,351.04pt) {90\%};
\draw[L100, line width=1.15pt] (175.2pt,343.77pt) -- (192.3pt,343.77pt);
\node[anchor=base west, inner sep=0pt] at (200.2pt,340.29pt) {100\%};
\end{scope}
\end{tikzpicture}
\end{document}
